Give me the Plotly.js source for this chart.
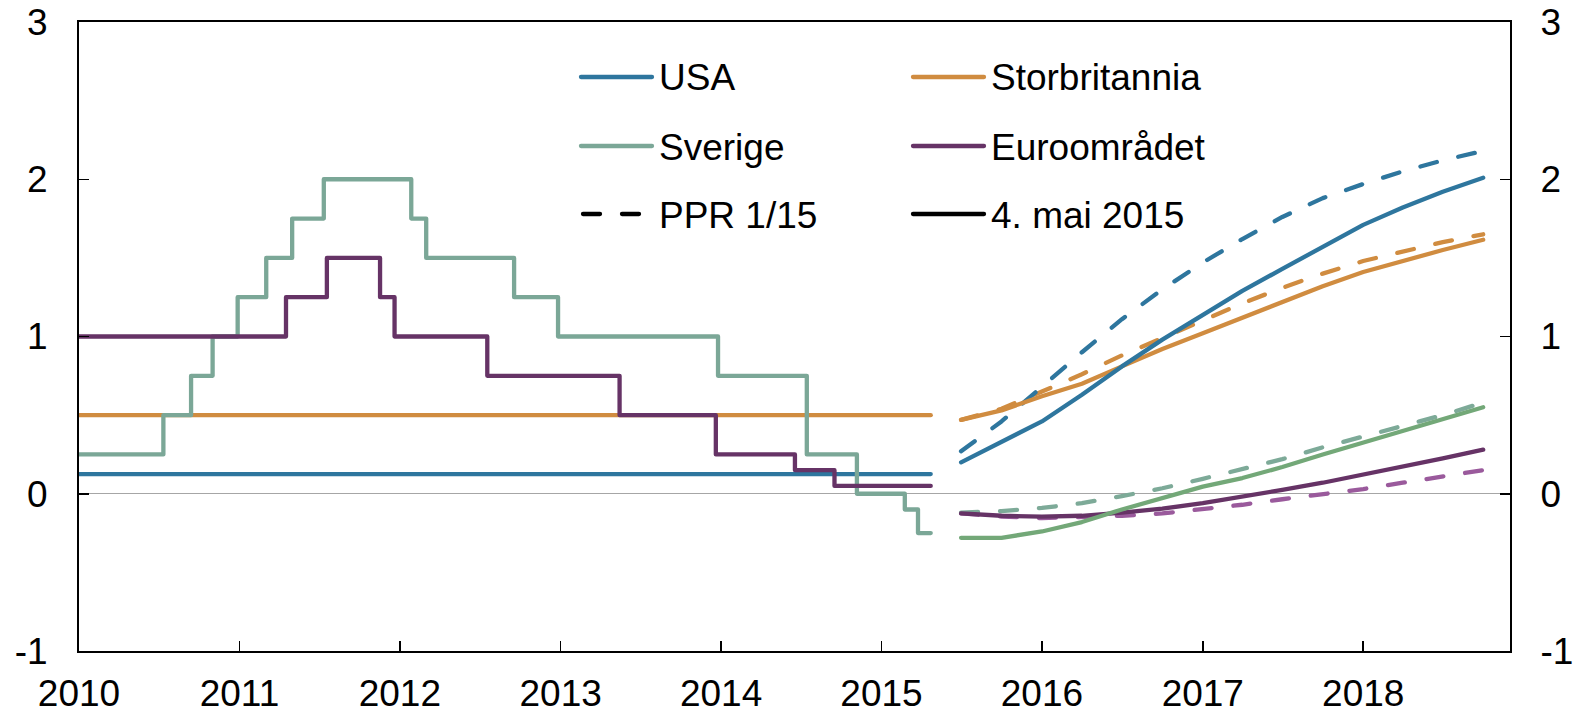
<!DOCTYPE html>
<html>
<head>
<meta charset="utf-8">
<script src="https://cdn.plot.ly/plotly-3.0.1.min.js"></script>
<style>
  html, body { margin: 0; padding: 0; background: #fff; }
  #chart { width: 1577px; height: 713px; }
  .js-line, .shapelayer path { stroke-linecap: round !important; stroke-linejoin: round !important; }
</style>
</head>
<body>
<div id="chart"></div>
<script>
// ---------- Data ----------
// Historical policy rates (step series, dates of rate changes)
const sverigeHistDates = ['2010-01-01','2010-07-12','2010-09-13','2010-11-01','2010-12-28','2011-03-03','2011-05-01','2011-07-12','2012-01-27','2012-03-01','2012-09-17','2012-12-26','2013-12-25','2014-07-15','2014-11-06','2015-02-23','2015-03-25','2015-04-23'];
const sverigeHistValues = [0.25,0.5,0.75,1.0,1.25,1.5,1.75,2.0,1.75,1.5,1.25,1.0,0.75,0.25,0.0,-0.1,-0.25,-0.25];

const euroHistDates = ['2010-01-01','2011-04-17','2011-07-19','2011-11-17','2011-12-20','2012-07-18','2013-05-15','2013-12-20','2014-06-18','2014-09-16','2015-04-23'];
const euroHistValues = [1.0,1.25,1.5,1.25,1.0,0.75,0.5,0.25,0.15,0.05,0.05];

const ukHistDates = ['2010-01-01','2015-04-23'];
const ukHistValues = [0.5,0.5];

const usaHistDates = ['2010-01-01','2015-04-23'];
const usaHistValues = [0.125,0.125];

// Forward rates (quarterly)
const forecastDates = ['2015-07-01','2015-10-01','2016-01-01','2016-04-01','2016-07-01','2016-10-01','2017-01-01','2017-04-01','2017-07-01','2017-10-01','2018-01-01','2018-04-01','2018-07-01','2018-10-01'];

const usaMay   = [0.20,0.33,0.46,0.63,0.81,0.98,1.14,1.29,1.43,1.57,1.71,1.82,1.92,2.01];
const usaPPR   = [0.27,0.46,0.68,0.90,1.11,1.30,1.47,1.62,1.76,1.88,1.97,2.05,2.12,2.18];
const ukMay    = [0.47,0.53,0.62,0.70,0.81,0.92,1.02,1.12,1.22,1.32,1.41,1.48,1.55,1.615];
const ukPPR    = [0.47,0.54,0.65,0.76,0.88,0.99,1.10,1.21,1.31,1.40,1.48,1.54,1.60,1.65];
const sveMay   = [-0.28,-0.28,-0.24,-0.18,-0.10,-0.03,0.045,0.10,0.17,0.25,0.325,0.40,0.475,0.55];
const svePPR   = [-0.12,-0.11,-0.09,-0.06,-0.015,0.035,0.095,0.155,0.22,0.295,0.365,0.435,0.50,0.58];
const euroMay  = [-0.125,-0.14,-0.145,-0.14,-0.12,-0.095,-0.06,-0.02,0.025,0.07,0.12,0.17,0.225,0.28];
const euroPPR  = [-0.125,-0.145,-0.155,-0.15,-0.14,-0.125,-0.10,-0.07,-0.035,-0.005,0.03,0.07,0.11,0.15];

// Axis ticks
const yTickVals = [-1,0,1,2,3];
const yTickText = ['-1','0','1','2','3'];

// Legend entries
const legendLabels = ['USA','Storbritannia','Sverige','Euroområdet','PPR 1/15','4. mai 2015'];

// ---------- Styles ----------
const C = {
  usa: '#2E769E',
  uk: '#D08C40',
  sveHist: '#7BA797',
  sveFc: '#73A878',
  sveDash: '#7DAA98',
  euro: '#663366',
  euroDash: '#9A5A9C',
  black: '#000000'
};
const LW = 4.3;
const DASH = '17px,22px';
const FONT = 'Liberation Sans, Arial, Helvetica, sans-serif';
const FS = 37;

function line(x, y, color, opts) {
  opts = opts || {};
  return {
    x: x, y: y, type: 'scatter', mode: 'lines',
    line: { color: color, width: LW, shape: opts.shape || 'linear', dash: opts.dash || 'solid' },
    yaxis: opts.yaxis || 'y',
    hoverinfo: 'skip', showlegend: false
  };
}

const traces = [
  line(ukHistDates, ukHistValues, C.uk, {shape: 'hv'}),
  line(usaHistDates, usaHistValues, C.usa, {shape: 'hv'}),
  line(sverigeHistDates, sverigeHistValues, C.sveHist, {shape: 'hv'}),
  line(euroHistDates, euroHistValues, C.euro, {shape: 'hv'}),
  line(forecastDates, euroPPR, C.euroDash, {dash: DASH}),
  line(forecastDates, svePPR, C.sveDash, {dash: DASH}),
  line(forecastDates, euroMay, C.euro),
  line(forecastDates, sveMay, C.sveFc),
  line(forecastDates, ukPPR, C.uk, {dash: DASH}),
  line(forecastDates, usaPPR, C.usa, {dash: DASH}),
  line(forecastDates, ukMay, C.uk),
  line(forecastDates, usaMay, C.usa, {yaxis: 'y2'})
];

// ---------- Custom legend (paper coords) ----------
const ML = 79, MR = 67, MT = 22, MB = 62, W = 1577, H = 713;
const PW = W - ML - MR, PH = H - MT - MB;
const px = v => (v - ML) / PW;
const py = v => (H - MB - v) / PH;

const legendItems = [
  {label: legendLabels[0], color: C.usa,   dash: 'solid', x0: 581, x1: 652, tx: 657, y: 77},
  {label: legendLabels[1], color: C.uk,    dash: 'solid', x0: 913, x1: 984, tx: 989, y: 77},
  {label: legendLabels[2], color: C.sveHist, dash: 'solid', x0: 581, x1: 652, tx: 657, y: 146},
  {label: legendLabels[3], color: C.euro,  dash: 'solid', x0: 913, x1: 984, tx: 989, y: 146},
  {label: legendLabels[4], color: C.black, dash: DASH,    x0: 583, x1: 640, tx: 657, y: 214},
  {label: legendLabels[5], color: C.black, dash: 'solid', x0: 913, x1: 984, tx: 989, y: 214}
];

const shapes = legendItems.map(it => ({
  type: 'line', xref: 'paper', yref: 'paper',
  x0: px(it.x0), x1: px(it.x1), y0: py(it.y), y1: py(it.y),
  line: {color: it.color, width: LW, dash: it.dash}
}));
const annotations = legendItems.map(it => ({
  xref: 'paper', yref: 'paper', x: px(it.tx), y: py(it.y + 1),
  xanchor: 'left', yanchor: 'middle', showarrow: false,
  text: it.label, font: {family: FONT, size: FS, color: '#000'}
}));

const layout = {
  width: W, height: H,
  margin: {l: ML, r: MR, t: MT, b: MB, pad: 0},
  paper_bgcolor: '#fff', plot_bgcolor: '#fff',
  showlegend: false,
  font: {family: FONT, size: FS, color: '#000'},
  xaxis: {
    type: 'date', range: ['2010-01-01', '2018-12-01'],
    tick0: '2010-01-01', dtick: 'M12', tickformat: '%Y',
    ticks: 'inside', ticklen: 10, tickwidth: 1.5, tickcolor: '#000',
    showline: true, linecolor: '#000', linewidth: 2, mirror: true,
    showgrid: false, zeroline: false,
    ticklabelstandoff: 9,
    tickfont: {family: FONT, size: FS, color: '#000'}
  },
  yaxis: {
    range: [-1, 3], tickvals: yTickVals, ticktext: yTickText,
    ticks: 'inside', ticklen: 10, tickwidth: 1.5, tickcolor: '#000',
    showline: true, linecolor: '#000', linewidth: 2, mirror: false,
    showgrid: false, zeroline: true, zerolinecolor: '#A6A6A6', zerolinewidth: 1.2,
    ticklabelstandoff: 22,
    tickfont: {family: FONT, size: FS, color: '#000'}
  },
  yaxis2: {
    range: [-1, 3], tickvals: yTickVals, ticktext: yTickText,
    overlaying: 'y', side: 'right', anchor: 'x',
    ticks: 'inside', ticklen: 10, tickwidth: 1.5, tickcolor: '#000',
    showline: true, linecolor: '#000', linewidth: 2,
    showgrid: false, zeroline: false,
    ticklabelstandoff: 21,
    tickfont: {family: FONT, size: FS, color: '#000'}
  },
  shapes: shapes,
  annotations: annotations
};

Plotly.newPlot('chart', traces, layout, {staticPlot: true, displayModeBar: false});
</script>
</body>
</html>
